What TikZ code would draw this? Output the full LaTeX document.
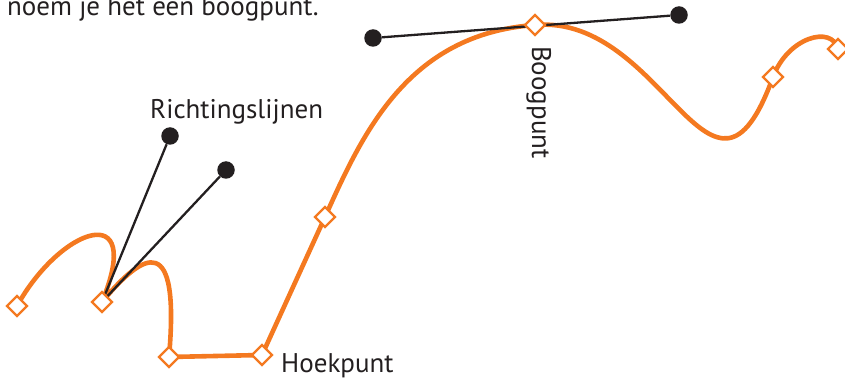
\documentclass[tikz,border=0pt]{standalone}
\usepackage{fontspec}
\setmainfont{PT Sans}
\usetikzlibrary{calc}

\definecolor{padoranje}{RGB}{244,121,32}
\definecolor{inkt}{RGB}{35,31,32}

\begin{document}
\begin{tikzpicture}[x=1pt,y=-1pt,
 padlijn/.style={padoranje, line width=4.6pt, line join=round},
 anker/.style={draw=padoranje, fill=white, line width=2.3pt, rotate=45, minimum size=14pt, inner sep=0pt},
 lijn/.style={inkt, line width=2.3pt},
 greep/.style={circle, fill=inkt, minimum size=17.5pt, inner sep=0pt},
 tekst/.style={text=inkt, font=\fontsize{27}{32}\selectfont, inner sep=0pt}]
\useasboundingbox (0,0) rectangle (845,379);
\clip (0,0) rectangle (845,379);
% ankerpunten
\coordinate (a1) at (17,306);
\coordinate (a2) at (102,302);
\coordinate (a3) at (169,357);
\coordinate (a4) at (262,355);
\coordinate (a5) at (325,217);
\coordinate (a6) at (535,25);
\coordinate (a7) at (773,77);
\coordinate (a8) at (838,49);
% het pad
\draw[padlijn] (a1) .. controls (60,228) and (145,197) .. (a2)
 .. controls (145,250) and (180,232) .. (a3) -- (a4) -- (a5)
 .. controls (362,135) and (407,34) .. (a6)
 .. controls (665,14) and (712,245) .. (a7)
 .. controls (788,37) and (832,25) .. (a8);
% richtingslijnen
\node[greep] (h1) at (170,136) {};
\node[greep] (h2) at (226,170) {};
\node[greep] (h3) at (373,38) {};
\node[greep] (h4) at (679,15) {};
\draw[lijn] (a2) -- (h1);
\draw[lijn] (a2) -- (h2);
\draw[lijn] (h3) -- (h4);
\foreach \p in {1,...,8} {
 \node[anker] (k\p) at (a\p) {};
}
\node[tekst, anchor=base west] (uitleg) at (7,16) {noem je het een boogpunt.};
\node[tekst, anchor=base west] (richting) at (150,119) {Richtingslijnen};
\node[tekst, anchor=base west] (hoek) at (281,372) {Hoekpunt};
\node[tekst, anchor=base west, rotate=-90] (boog) at (532,46) {Boogpunt};
\end{tikzpicture}
\end{document}
